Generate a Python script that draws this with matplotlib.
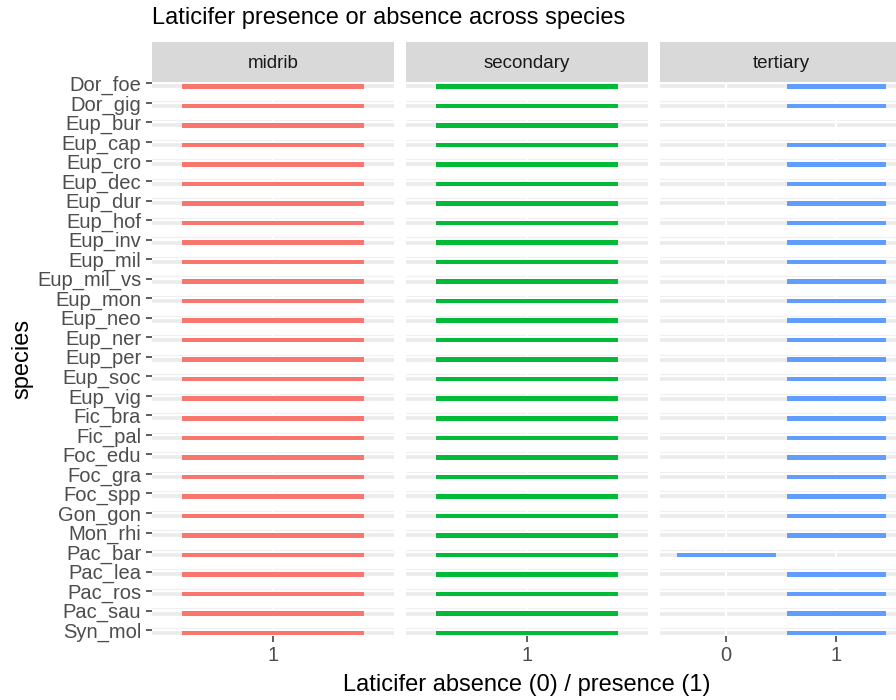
import matplotlib
matplotlib.use("Agg")
import matplotlib.pyplot as plt
import numpy as np

plt.rcParams['font.family'] = ['Liberation Sans', 'DejaVu Sans']

species = ["Dor_foe", "Dor_gig", "Eup_bur", "Eup_cap", "Eup_cro", "Eup_dec", "Eup_dur",
           "Eup_hof", "Eup_inv", "Eup_mil", "Eup_mil_vs", "Eup_mon", "Eup_neo", "Eup_ner",
           "Eup_per", "Eup_soc", "Eup_vig", "Fic_bra", "Fic_pal", "Foc_edu", "Foc_gra",
           "Foc_spp", "Gon_gon", "Mon_rhi", "Pac_bar", "Pac_lea", "Pac_ros", "Pac_sau", "Syn_mol"]

# None = no record for that species
midrib = [1] * 29
secondary = [1] * 29
tertiary = [1, 1, None, 1, 1, 1, 1, 1, 1, 1, 1, 1, 1, 1, 1, 1, 1, 1, 1, 1, 1, 1, 1, 1, 0, 1, 1, 1, 1]

panels = ["midrib", "secondary", "tertiary"]
values = [midrib, secondary, tertiary]
colors = ["#F8766D", "#00BA38", "#619CFF"]

W, H = 896, 700
fig = plt.figure(figsize=(W / 100, H / 100), dpi=100)

lefts = [152, 406, 660]
pw = 242
top, bottom = 82, 636
strip_top = 42

fig.text(152 / W, 1 - 18 / H, "Laticifer presence or absence across species",
         fontsize=17, ha="left", va="center", color="black")

ypos = np.arange(len(species))
for k, (name, vals, col) in enumerate(zip(panels, values, colors)):
    ax = fig.add_axes([lefts[k] / W, 1 - bottom / H, pw / W, (bottom - top) / H])
    cats = sorted({v for v in vals if v is not None})
    xmap = {c: i + 1 for i, c in enumerate(cats)}
    ax.set_xlim(0.4, len(cats) + 0.6)
    ax.set_ylim(len(species) - 1 + 0.15, -0.22)

    # grid: grey rows, white vertical breaks
    for y in ypos:
        ax.axhline(y, color="#EBEBEB", lw=2.6, zorder=1)
        ax.axhline(y - 0.26, color="#F0F0F0", lw=0.9, zorder=1)
    for c in cats:
        ax.axvline(xmap[c], color="white", lw=1.6, zorder=2)

    xs = [xmap[v] for v in vals if v is not None]
    ys = [y for y, v in zip(ypos, vals) if v is not None]
    ax.barh(ys, [0.9] * len(xs), left=[x - 0.45 for x in xs], height=0.23,
            color=col, zorder=3)

    for s in ax.spines.values():
        s.set_visible(False)
    ax.set_xticks([xmap[c] for c in cats])
    ax.set_xticklabels([str(c) for c in cats])
    ax.tick_params(axis="x", length=4.3, width=1.1, color="#333333", labelcolor="#4D4D4D",
                   labelsize=14.5, pad=3)
    if k == 0:
        ax.set_yticks(ypos - 0.15)
        ax.set_yticklabels(species)
        ax.tick_params(axis="y", length=4.3, width=1.1, color="#333333", labelcolor="#4D4D4D",
                       labelsize=14.5, pad=3.5)
    else:
        ax.set_yticks([])

    sax = fig.add_axes([lefts[k] / W, 1 - top / H, pw / W, (top - strip_top) / H])
    sax.set_facecolor("#D9D9D9")
    sax.set_xticks([])
    sax.set_yticks([])
    for s in sax.spines.values():
        s.set_visible(False)
    sax.text(0.5, 0.45, name, transform=sax.transAxes, ha="center", va="center",
             fontsize=13.5, color="#1A1A1A")

fig.text(527 / W, 1 - 685 / H, "Laticifer absence (0) / presence (1)",
         fontsize=17, ha="center", va="center", color="black")
fig.text(22 / W, 1 - 359 / H, "species", fontsize=17, rotation=90,
         ha="center", va="center", color="black")

fig.savefig("out.png", dpi=100)
